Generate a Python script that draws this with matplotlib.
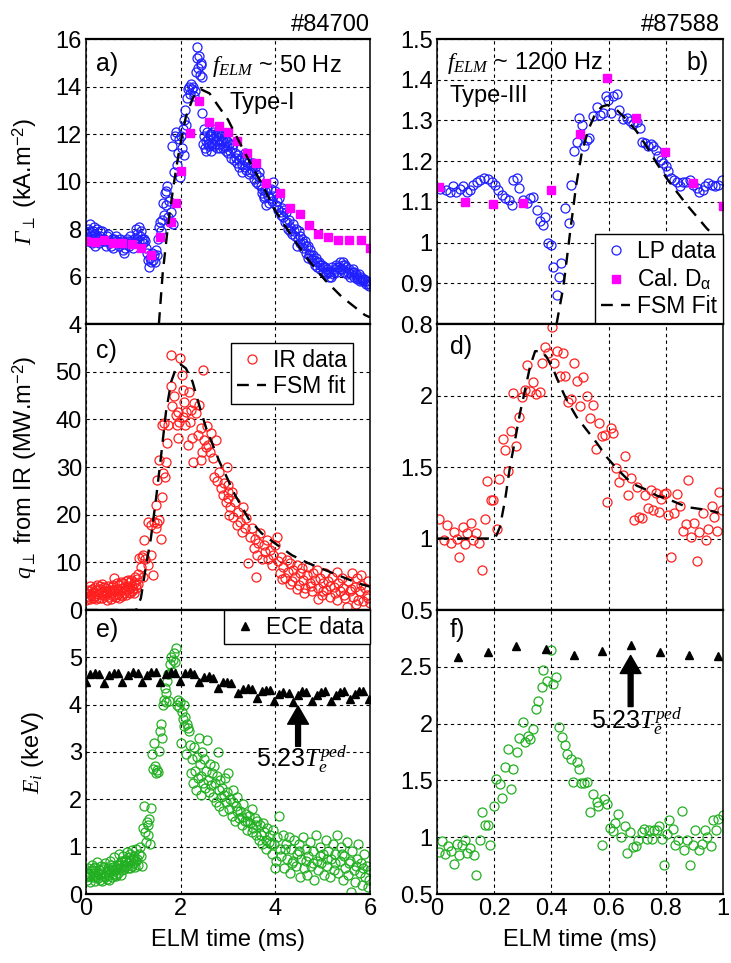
import numpy as np
import matplotlib.pyplot as plt
from matplotlib.ticker import FuncFormatter

plt.rcParams.update({
    'font.family': ['Liberation Sans', 'DejaVu Sans'],
    'font.size': 17,
    'mathtext.fontset': 'custom',
    'mathtext.rm': 'Liberation Sans',
    'mathtext.it': 'Liberation Serif:italic',
    'mathtext.cal': 'Liberation Serif:italic',
    'mathtext.bf': 'Liberation Sans:bold',
})

# ---------------- shot #84700 (type-I) ----------------
# particle flux, Langmuir probes (t in ms, kA/m2)
lp_a = [(0.00, 7.8), (0.02, 7.6), (0.04, 8.0), (0.06, 7.5), (0.08, 8.2), (0.10, 7.7), (0.12, 7.4), (0.14, 7.9),
        (0.16, 7.6), (0.18, 7.3), (0.20, 7.8), (0.22, 7.5), (0.24, 8.0), (0.26, 7.6), (0.28, 7.4), (0.30, 7.7),
        (0.33, 7.9), (0.36, 7.5), (0.39, 7.6), (0.42, 7.3), (0.45, 7.7), (0.48, 7.5), (0.51, 7.4), (0.54, 7.6),
        (0.57, 7.2), (0.60, 7.5), (0.63, 7.7), (0.66, 7.4), (0.69, 7.3), (0.72, 7.6), (0.75, 7.4), (0.78, 7.1),
        (0.81, 7.0), (0.84, 7.4), (0.87, 7.6), (0.90, 7.3), (0.93, 7.7), (0.96, 7.5), (0.99, 7.2), (1.02, 7.6),
        (1.05, 8.0), (1.08, 7.8), (1.11, 7.5), (1.14, 7.7), (1.17, 7.9), (1.20, 7.4), (1.23, 7.6), (1.26, 7.2),
        (1.29, 7.0), (1.32, 6.7), (1.34, 6.4), (1.36, 6.8), (1.38, 6.6), (1.40, 7.0), (1.42, 6.7), (1.44, 6.9),
        (1.46, 6.6), (1.48, 7.1), (1.50, 6.9), (1.52, 7.6), (1.54, 8.1), (1.56, 8.3), (1.58, 7.9), (1.60, 8.4),
        (1.62, 9.1), (1.64, 8.6), (1.66, 9.5), (1.68, 9.6), (1.70, 9.0), (1.72, 9.8), (1.74, 8.5), (1.76, 9.2),
        (1.78, 8.3), (1.80, 8.7), (1.82, 11.5), (1.84, 8.2), (1.86, 10.4), (1.88, 11.9), (1.90, 12.1), (1.92, 10.7),
        (1.94, 11.2), (1.96, 11.8), (1.98, 10.2), (2.00, 11.9), (2.02, 11.4), (2.04, 12.2), (2.06, 11.1), (2.08, 12.6),
        (2.10, 13.0), (2.12, 12.4), (2.14, 13.5), (2.16, 13.9), (2.18, 14.0), (2.20, 13.7), (2.22, 14.1), (2.24, 13.9),
        (2.26, 14.0), (2.28, 13.6), (2.30, 13.8), (2.32, 14.6), (2.34, 15.2), (2.35, 15.65), (2.37, 14.8), (2.38, 15.3),
        (2.40, 14.5), (2.42, 14.9), (2.44, 15.0), (2.45, 14.4), (2.46, 12.9), (2.48, 11.6), (2.50, 11.9), (2.52, 11.4),
        (2.54, 11.7), (2.56, 12.1), (2.58, 11.8), (2.60, 11.5), (2.62, 11.9), (2.64, 12.0), (2.66, 11.6), (2.68, 11.8),
        (2.70, 11.5), (2.72, 12.2), (2.74, 11.9), (2.76, 11.7), (2.78, 12.1), (2.80, 11.6), (2.82, 11.8), (2.84, 11.4),
        (2.86, 11.9), (2.88, 12.0), (2.90, 11.7), (2.92, 11.5), (2.94, 11.8), (2.96, 11.3), (2.98, 11.7), (3.00, 11.2),
        (3.03, 11.6), (3.06, 11.0), (3.09, 11.4), (3.12, 10.9), (3.15, 11.2), (3.18, 10.8), (3.21, 11.1), (3.24, 10.6),
        (3.27, 11.0), (3.30, 10.4), (3.33, 10.9), (3.36, 11.2), (3.39, 10.5), (3.42, 10.8), (3.45, 10.3), (3.48, 10.7),
        (3.51, 10.5), (3.54, 10.1), (3.57, 10.6), (3.60, 10.3), (3.63, 9.9), (3.66, 10.4), (3.69, 9.8), (3.72, 9.5),
        (3.75, 9.3), (3.78, 9.6), (3.81, 9.0), (3.84, 9.4), (3.87, 9.1), (3.90, 9.7), (3.93, 9.2), (3.96, 10.0),
        (3.99, 9.6), (4.02, 9.0), (4.05, 8.8), (4.08, 9.3), (4.11, 8.6), (4.14, 8.9), (4.17, 8.5), (4.20, 8.3),
        (4.23, 8.7), (4.26, 8.0), (4.29, 8.4), (4.32, 8.1), (4.35, 7.8), (4.38, 8.2), (4.41, 7.7), (4.44, 8.0),
        (4.47, 7.6), (4.50, 7.9), (4.53, 7.4), (4.56, 7.6), (4.59, 7.2), (4.62, 7.5), (4.65, 7.0), (4.68, 7.3),
        (4.71, 6.9), (4.74, 7.1), (4.77, 6.7), (4.80, 6.9), (4.83, 6.5), (4.86, 6.8), (4.89, 6.4), (4.92, 6.6),
        (4.95, 6.3), (4.98, 6.5), (5.01, 6.2), (5.04, 6.4), (5.07, 6.1), (5.10, 6.3), (5.13, 6.0), (5.16, 6.2),
        (5.19, 6.4), (5.22, 6.1), (5.25, 6.3), (5.28, 6.5), (5.31, 6.2), (5.34, 6.4), (5.37, 6.6), (5.40, 6.3),
        (5.43, 6.5), (5.46, 6.2), (5.49, 6.4), (5.52, 6.1), (5.55, 6.3), (5.58, 6.0), (5.61, 6.2), (5.64, 6.3),
        (5.67, 6.0), (5.70, 6.1), (5.73, 5.9), (5.76, 6.1), (5.79, 5.8), (5.82, 6.0), (5.85, 5.8), (5.88, 5.9),
        (5.91, 5.7), (5.94, 5.8), (5.97, 5.6), (6.00, 5.7),
        (0.01, 7.5), (0.05, 7.7), (0.09, 7.9), (0.13, 7.6), (0.17, 8.1), (0.23, 7.7), (0.29, 7.9), (0.35, 7.6),
        (0.41, 7.5), (0.47, 7.8), (0.53, 7.3), (0.59, 7.6), (0.65, 7.5), (0.71, 7.4), (0.77, 7.5), (0.83, 7.2),
        (0.89, 7.5), (0.95, 7.4), (1.01, 7.4), (1.07, 7.6), (1.13, 8.1), (1.19, 7.6), (1.25, 7.5),
        (2.49, 12.2), (2.53, 11.3), (2.57, 11.6), (2.61, 12.0), (2.65, 11.3), (2.69, 12.1), (2.73, 11.6),
        (2.77, 11.4), (2.81, 12.0), (2.85, 11.7), (2.89, 11.4), (2.93, 12.0), (2.97, 11.5),
        (3.05, 11.3), (3.11, 11.6), (3.17, 11.0), (3.23, 10.9), (3.29, 10.7), (3.35, 10.6), (3.41, 10.9),
        (3.47, 10.4), (3.53, 10.8), (3.59, 10.0), (3.65, 10.2), (3.71, 9.7), (3.77, 9.4), (3.83, 9.7),
        (3.89, 9.3), (3.95, 9.4),
        (4.04, 9.2), (4.13, 8.7), (4.19, 8.8), (4.25, 8.3), (4.31, 7.9), (4.40, 7.9), (4.46, 7.3), (4.52, 7.7),
        (4.58, 7.4), (4.64, 7.3), (4.70, 6.8), (4.76, 6.9), (4.82, 6.7), (4.88, 6.6), (4.94, 6.5), (5.00, 6.4),
        (5.06, 6.2), (5.12, 6.2), (5.18, 6.0), (5.24, 6.2), (5.30, 6.4), (5.36, 6.3), (5.42, 6.6), (5.48, 6.5),
        (5.54, 6.2), (5.60, 6.1), (5.66, 6.2), (5.72, 6.0), (5.78, 5.9), (5.84, 5.9), (5.90, 5.8), (5.96, 5.7)]

# flux from calibrated D-alpha
da_a = [(0.00, 7.51), (0.19, 7.45), (0.38, 7.55), (0.58, 7.42), (0.77, 7.42), (0.98, 7.35), (1.17, 7.2),
        (1.37, 6.9), (1.57, 7.65), (1.80, 8.3), (1.90, 9.1), (2.00, 10.45), (2.19, 12.05), (2.38, 13.4),
        (2.59, 12.5), (2.80, 12.35), (3.00, 12.1), (3.19, 11.7), (3.40, 11.2), (3.59, 10.8), (3.80, 9.95),
        (4.09, 9.5), (4.31, 8.9), (4.52, 8.65), (4.72, 8.15), (4.91, 7.8), (5.12, 7.65), (5.33, 7.55),
        (5.56, 7.55), (5.80, 7.55), (5.99, 7.2)]

fsm_a = [(1.54, 4.0), (1.62, 6.13), (1.73, 8.1), (1.845, 9.78), (1.97, 11.33), (2.11, 12.73), (2.27, 13.57),
         (2.43, 13.88), (2.61, 13.71), (2.78, 13.22), (3.00, 12.6), (3.36, 11.19), (3.71, 9.92), (3.99, 8.8),
         (4.35, 7.68), (4.70, 6.69), (5.05, 5.85), (5.40, 5.15), (5.89, 4.38), (6.00, 4.28)]

# divertor heat flux from IR (MW/m2)
ir_c = [(0.00, 3.5), (0.02, 4.2), (0.04, 2.8), (0.06, 3.9), (0.08, 5.0), (0.10, 3.2), (0.12, 4.5), (0.14, 2.5),
        (0.16, 3.8), (0.18, 4.8), (0.20, 3.0), (0.22, 4.1), (0.24, 5.2), (0.26, 3.4), (0.28, 2.6), (0.30, 4.4),
        (0.32, 3.7), (0.34, 5.5), (0.36, 3.1), (0.38, 4.0), (0.40, 2.9), (0.42, 4.6), (0.44, 3.5), (0.46, 5.1),
        (0.48, 2.7), (0.50, 4.3), (0.52, 3.6), (0.54, 4.9), (0.56, 3.0), (0.58, 4.1), (0.60, 6.8), (0.62, 3.9),
        (0.64, 2.8), (0.66, 4.5), (0.68, 3.4), (0.70, 5.3), (0.72, 4.0), (0.74, 3.2), (0.76, 4.7), (0.78, 5.6),
        (0.80, 3.6), (0.82, 4.9), (0.84, 6.0), (0.86, 4.2), (0.88, 5.1), (0.90, 3.8), (0.92, 5.8), (0.94, 4.6),
        (0.96, 6.3), (0.98, 5.0), (1.00, 4.4), (1.02, 5.7), (1.04, 6.9), (1.06, 5.2), (1.08, 6.4), (1.10, 7.6),
        (0.01, 2.2), (0.05, 3.0), (0.09, 2.4), (0.13, 3.6), (0.17, 2.9), (0.21, 2.3), (0.25, 3.3), (0.29, 5.1),
        (0.33, 2.6), (0.37, 4.9), (0.41, 3.3), (0.45, 2.2), (0.49, 4.0), (0.53, 2.4), (0.57, 5.3), (0.61, 3.2),
        (0.65, 5.6), (0.69, 2.5), (0.73, 5.9), (0.77, 3.0), (0.81, 4.3), (0.85, 3.1), (0.89, 6.2), (0.93, 3.5),
        (0.97, 4.0), (1.01, 3.6), (1.05, 4.7), (1.09, 5.5),
        (1.12, 11.0), (1.16, 9.0), (1.18, 11.2), (1.20, 7.0), (1.21, 11.6), (1.23, 14.7), (1.25, 10.8), (1.30, 9.4),
        (1.37, 11.5), (1.41, 7.4), (1.30, 18.5), (1.37, 17.8), (1.44, 18.5), (1.49, 18.2), (1.48, 17.1),
        (1.55, 18.9), (1.58, 15.0), (1.48, 22.0), (1.49, 27.3), (1.61, 23.8), (1.63, 28.7), (1.67, 28.0),
        (1.68, 31.1), (1.54, 31.5), (1.61, 38.8), (1.65, 39.2), (1.73, 38.8), (1.71, 35.0), (1.80, 46.9),
        (1.85, 44.8), (1.82, 42.7), (1.90, 40.9), (1.92, 38.8), (1.94, 36.0), (1.97, 39.5), (1.99, 52.8),
        (1.80, 53.4), (2.02, 49.3), (2.04, 46.2), (2.08, 43.7), (2.11, 41.6), (2.10, 38.8), (2.15, 34.6),
        (2.18, 45.8), (2.22, 42.0), (2.24, 36.0), (2.29, 43.4), (2.32, 41.3), (2.36, 36.7), (2.39, 43.0),
        (2.43, 38.1), (2.46, 33.2), (2.48, 50.4), (2.50, 35.7), (2.54, 34.1), (2.57, 34.6), (2.61, 33.2),
        (2.64, 37.1), (2.68, 31.8), (2.71, 28.0), (2.75, 35.7), (2.76, 27.0), (2.80, 29.0), (2.85, 25.5),
        (2.89, 24.1), (2.92, 26.6), (2.96, 22.7), (2.99, 24.8), (3.03, 19.9), (3.04, 21.7), (2.25, 31.1),
        (2.43, 31.5), (1.95, 41.5), (2.05, 40.5), (2.20, 39.5), (2.55, 38.5),
        (2.97, 30.1), (3.01, 26.2), (2.99, 23.4), (3.08, 24.8), (3.11, 19.6), (3.15, 22.7), (3.18, 17.8),
        (3.22, 20.6), (3.25, 18.5), (3.29, 16.4), (3.32, 21.7), (3.36, 17.1), (3.39, 19.2), (3.43, 9.8),
        (3.46, 15.4), (3.50, 17.1), (3.54, 13.0), (3.57, 15.0), (3.61, 11.6), (3.64, 14.0), (3.68, 16.1),
        (3.71, 10.8), (3.75, 13.7), (3.78, 12.2), (3.82, 14.7), (3.85, 10.8), (3.89, 12.6), (3.92, 9.5),
        (3.96, 11.5), (3.99, 13.7), (4.03, 15.4), (4.06, 10.2), (4.10, 7.7), (4.13, 11.2), (4.17, 9.1),
        (4.20, 6.7), (4.24, 10.5), (4.27, 8.0), (4.31, 9.8), (4.35, 6.0), (4.38, 8.4), (4.42, 7.0), (4.45, 9.5),
        (4.49, 5.3), (4.52, 7.7), (4.56, 8.8), (4.59, 6.3), (4.63, 4.6), (4.66, 7.4), (4.70, 9.1), (4.73, 5.6),
        (4.77, 3.9), (4.80, 7.7), (4.84, 6.3), (4.87, 8.4), (4.91, 4.6), (4.94, 6.7), (4.98, 3.2), (5.01, 5.6),
        (5.05, 7.7), (5.08, 4.2), (5.12, 6.0), (5.16, 2.8), (5.19, 7.0), (5.23, 4.9), (5.26, 3.5), (5.30, 8.0),
        (5.33, 5.6), (5.37, 3.9), (5.40, 6.7), (5.44, 4.6), (5.47, 2.5), (5.51, 0.7), (5.54, 6.0), (5.58, 3.9),
        (5.61, 7.7), (5.65, 2.8), (5.68, 4.9), (5.72, 6.7), (5.75, 2.1), (5.79, 3.9), (5.82, 7.4), (5.86, 1.8),
        (5.89, 4.6), (5.93, 3.2), (5.96, 6.0), (5.99, 1.4),
        (4.45, 4.5), (4.60, 3.5), (4.75, 5.0), (4.90, 2.4), (5.00, 4.0), (5.15, 5.0), (5.30, 2.2), (5.45, 3.2),
        (5.60, 4.4), (5.70, 1.2), (5.80, 5.2), (5.95, 2.6), (4.30, 5.5), (4.15, 6.5), (3.60, 7.0)]

fsm_c = [(0.00, 0.0), (0.50, 0.0), (1.06, 0.0), (1.16, 2.5), (1.27, 9.4), (1.37, 15.0), (1.48, 23.4),
         (1.58, 31.8), (1.69, 41.6), (1.80, 47.9), (1.90, 50.7), (2.00, 51.5), (2.11, 50.7), (2.25, 47.9),
         (2.39, 43.0), (2.54, 38.1), (2.68, 34.6), (2.82, 31.1), (2.94, 28.6), (3.15, 24.1), (3.43, 19.2),
         (3.71, 16.1), (3.99, 14.0), (4.35, 11.5), (4.70, 9.8), (5.05, 8.4), (5.40, 7.0), (5.75, 5.6),
         (6.00, 4.9)]

# ion impact energy (keV)
ei_e = [(0.00, 0.45), (0.02, 0.30), (0.04, 0.55), (0.06, 0.38), (0.08, 0.25), (0.10, 0.50), (0.12, 0.62),
        (0.14, 0.35), (0.16, 0.45), (0.18, 0.28), (0.20, 0.58), (0.22, 0.40), (0.24, 0.68), (0.26, 0.33),
        (0.28, 0.50), (0.30, 0.42), (0.32, 0.60), (0.34, 0.28), (0.36, 0.52), (0.38, 0.38), (0.40, 0.65),
        (0.42, 0.45), (0.44, 0.32), (0.46, 0.55), (0.48, 0.40), (0.50, 0.70), (0.52, 0.48), (0.54, 0.35),
        (0.56, 0.58), (0.58, 0.42), (0.60, 0.78), (0.62, 0.50), (0.64, 0.38), (0.66, 0.62), (0.68, 0.45),
        (0.70, 0.85), (0.72, 0.55), (0.74, 0.40), (0.76, 0.68), (0.78, 0.80), (0.80, 0.52), (0.82, 0.72),
        (0.84, 0.60), (0.86, 0.88), (0.88, 0.65), (0.90, 0.78), (0.92, 0.55), (0.94, 0.85), (0.96, 0.70),
        (0.98, 0.92), (1.00, 0.65), (1.02, 0.80), (1.04, 0.58), (1.06, 0.95), (1.08, 0.75), (1.10, 0.62),
        (1.12, 0.85), (1.14, 1.00), (1.16, 0.80), (1.18, 0.60),
        (0.01, 0.35), (0.05, 0.42), (0.09, 0.38), (0.13, 0.48), (0.17, 0.55), (0.21, 0.35), (0.25, 0.45),
        (0.29, 0.30), (0.33, 0.45), (0.37, 0.58), (0.41, 0.35), (0.45, 0.48), (0.49, 0.30), (0.53, 0.62),
        (0.57, 0.50), (0.61, 0.40), (0.65, 0.55), (0.69, 0.62), (0.73, 0.70), (0.77, 0.50), (0.81, 0.62),
        (0.85, 0.70), (0.89, 0.55), (0.93, 0.72), (0.97, 0.60), (1.01, 0.75), (1.05, 0.70),
        (1.20, 1.40), (1.22, 1.85), (1.24, 1.30), (1.26, 1.10), (1.28, 1.52), (1.30, 1.25), (1.32, 1.45),
        (1.34, 1.58), (1.36, 1.05), (1.38, 1.82), (1.40, 2.95), (1.42, 2.65), (1.44, 3.20), (1.46, 2.70),
        (1.48, 2.55), (1.50, 2.62), (1.52, 2.58), (1.54, 3.02), (1.56, 3.45), (1.58, 3.60), (1.60, 3.30),
        (1.62, 4.00), (1.64, 4.10), (1.66, 4.35), (1.68, 4.25), (1.70, 4.05), (1.72, 4.50), (1.74, 4.65),
        (1.76, 4.07), (1.78, 4.85), (1.80, 5.00), (1.82, 4.70), (1.84, 4.95), (1.86, 5.10), (1.88, 4.90),
        (1.90, 5.20), (1.92, 4.00), (1.94, 4.10), (1.96, 3.95), (1.98, 4.05), (2.00, 3.20), (2.02, 3.85),
        (2.04, 3.70), (2.06, 4.00), (2.08, 3.55), (2.10, 3.75), (2.12, 2.95), (2.14, 3.60), (2.16, 3.50),
        (2.18, 3.45),
        (2.20, 3.15), (2.22, 2.55), (2.24, 2.85), (2.26, 2.35), (2.28, 3.10), (2.30, 2.60), (2.32, 2.20),
        (2.34, 2.90), (2.36, 2.45), (2.38, 3.30), (2.40, 2.75), (2.42, 2.10), (2.44, 2.50), (2.46, 3.00),
        (2.48, 2.35), (2.50, 2.85), (2.52, 2.25), (2.54, 2.60), (2.56, 3.25), (2.58, 2.40), (2.60, 2.15),
        (2.62, 2.75), (2.64, 2.30), (2.66, 2.55), (2.68, 2.05), (2.70, 2.70), (2.72, 2.35), (2.74, 1.95),
        (2.76, 2.50), (2.78, 3.00), (2.80, 2.20), (2.82, 1.85), (2.84, 2.40), (2.86, 2.05), (2.88, 2.25),
        (2.90, 1.75), (2.92, 2.10), (2.94, 2.45), (2.96, 1.95), (2.98, 2.15), (3.00, 2.55),
        (3.02, 1.80), (3.05, 2.00), (3.08, 1.65), (3.11, 1.95), (3.14, 1.55), (3.17, 1.85), (3.20, 2.05),
        (3.23, 1.60), (3.26, 1.75), (3.29, 1.45), (3.32, 1.90), (3.35, 1.55), (3.38, 1.70), (3.41, 1.35),
        (3.44, 1.65), (3.47, 1.50), (3.50, 1.80), (3.53, 1.40), (3.56, 1.60), (3.59, 1.25), (3.62, 1.55),
        (3.65, 1.15), (3.68, 1.45), (3.71, 1.05), (3.74, 1.50), (3.77, 1.30), (3.80, 0.95), (3.83, 1.40),
        (3.86, 1.10), (3.89, 1.25), (3.92, 0.85), (3.95, 1.35), (3.98, 1.05), (4.01, 0.70), (4.04, 1.20),
        (4.07, 1.65), (4.10, 0.95),
        (3.10, 2.20), (3.20, 1.75), (3.30, 1.62), (3.40, 1.55), (3.50, 1.30), (3.60, 1.45), (3.70, 1.25),
        (3.80, 1.15), (3.90, 1.05), (4.00, 0.55),
        (4.13, 0.80), (4.16, 1.25), (4.19, 0.55), (4.22, 1.05), (4.25, 0.75), (4.28, 1.20), (4.31, 0.45),
        (4.34, 0.95), (4.37, 0.70), (4.40, 1.15), (4.43, 0.60), (4.46, 0.85), (4.49, 1.05), (4.52, 0.35),
        (4.55, 0.75), (4.58, 1.20), (4.61, 0.55), (4.64, 0.95), (4.67, 0.40), (4.70, 0.80), (4.73, 1.10),
        (4.76, 0.60), (4.79, 0.90), (4.82, 0.30), (4.85, 1.25), (4.88, 0.70), (4.91, 0.50), (4.94, 1.00),
        (4.97, 0.65), (5.00, 0.85), (5.03, 0.40), (5.06, 1.15), (5.09, 0.60), (5.12, 0.90), (5.15, 0.35),
        (5.18, 0.75), (5.21, 1.05), (5.24, 0.50), (5.27, 0.85), (5.30, 1.25), (5.33, 0.45), (5.36, 0.70),
        (5.39, 1.00), (5.42, 0.30), (5.45, 0.80), (5.48, 0.55), (5.51, 1.10), (5.54, 0.40), (5.57, 0.70),
        (5.60, 0.05), (5.63, 0.90), (5.66, 0.50), (5.69, 0.25), (5.72, 0.75), (5.75, 1.05), (5.78, 0.45),
        (5.81, 0.65), (5.84, 0.20), (5.87, 0.85), (5.90, 0.35), (5.93, 0.60), (5.96, 0.15), (5.99, 0.50),
        (4.20, 0.95), (4.35, 0.65), (4.50, 0.90), (4.65, 0.70), (4.80, 0.65), (4.95, 0.80), (5.10, 0.75),
        (5.25, 0.65), (5.40, 0.85), (5.55, 0.65), (5.70, 0.60), (5.85, 0.55), (5.98, 0.30)]

# 5.23 x pedestal Te from ECE (keV)
ece_e = [(0.01, 4.48), (0.085, 4.64), (0.18, 4.66), (0.27, 4.64), (0.39, 4.45), (0.49, 4.62), (0.60, 4.66),
         (0.68, 4.66), (0.77, 4.47), (0.88, 4.63), (0.99, 4.68), (1.09, 4.66), (1.18, 4.47), (1.28, 4.63),
         (1.37, 4.68), (1.48, 4.70), (1.56, 4.48), (1.69, 4.64), (1.80, 4.69), (1.89, 4.66), (1.99, 4.49),
         (2.10, 4.66), (2.20, 4.69), (2.29, 4.65), (2.38, 4.47), (2.50, 4.58), (2.59, 4.61), (2.68, 4.56),
         (2.78, 4.35), (2.89, 4.47), (2.97, 4.48), (3.06, 4.45), (3.22, 4.25), (3.32, 4.34), (3.42, 4.36),
         (3.51, 4.34), (3.61, 4.14), (3.71, 4.28), (3.80, 4.31), (3.89, 4.30), (3.98, 4.07), (4.08, 4.22),
         (4.17, 4.26), (4.28, 4.25), (4.38, 4.06), (4.47, 4.21), (4.56, 4.28), (4.65, 4.26), (4.78, 4.07),
         (4.87, 4.21), (4.97, 4.27), (5.05, 4.28), (5.18, 4.08), (5.28, 4.20), (5.37, 4.27), (5.46, 4.28),
         (5.58, 4.11), (5.68, 4.22), (5.77, 4.29), (5.86, 4.28), (5.98, 4.11)]

# ---------------- shot #87588 (type-III) ----------------
lp_b = [(0.01, 1.132), (0.031, 1.13), (0.045, 1.125), (0.057, 1.138), (0.068, 1.125), (0.08, 1.131),
        (0.092, 1.138), (0.104, 1.124), (0.115, 1.13), (0.127, 1.142), (0.139, 1.148), (0.15, 1.154),
        (0.164, 1.158), (0.18, 1.156), (0.191, 1.15), (0.203, 1.142), (0.214, 1.13), (0.226, 1.117),
        (0.238, 1.109), (0.25, 1.105), (0.261, 1.093), (0.267, 1.154), (0.279, 1.158), (0.288, 1.134),
        (0.302, 1.105), (0.314, 1.097), (0.325, 1.109), (0.337, 1.113), (0.348, 1.08), (0.36, 1.052),
        (0.369, 1.043), (0.379, 1.064), (0.389, 0.998), (0.397, 0.994), (0.404, 0.941), (0.418, 0.871),
        (0.425, 0.916), (0.435, 0.949), (0.449, 1.084), (0.46, 1.049), (0.467, 1.142), (0.479, 1.226),
        (0.488, 1.248), (0.498, 1.306), (0.506, 1.289), (0.514, 1.236), (0.523, 1.252), (0.533, 1.257),
        (0.547, 1.31), (0.558, 1.334), (0.57, 1.314), (0.582, 1.318), (0.591, 1.359), (0.599, 1.351),
        (0.607, 1.318), (0.617, 1.359), (0.628, 1.366), (0.638, 1.326), (0.652, 1.303), (0.663, 1.306),
        (0.675, 1.298), (0.686, 1.292), (0.698, 1.295), (0.71, 1.281), (0.717, 1.246), (0.727, 1.244),
        (0.738, 1.236), (0.747, 1.243), (0.756, 1.236), (0.766, 1.228), (0.774, 1.213), (0.783, 1.203),
        (0.791, 1.195), (0.801, 1.189), (0.809, 1.176), (0.818, 1.158), (0.829, 1.154), (0.838, 1.148),
        (0.85, 1.139), (0.859, 1.148), (0.871, 1.15), (0.885, 1.154), (0.896, 1.142), (0.908, 1.134),
        (0.917, 1.125), (0.929, 1.13), (0.937, 1.138), (0.949, 1.146), (0.96, 1.142), (0.972, 1.139),
        (0.984, 1.142), (0.998, 1.154)]

da_b = [(0.008, 1.136), (0.097, 1.10), (0.197, 1.095), (0.30, 1.098), (0.40, 1.13), (0.50, 1.266),
        (0.596, 1.404), (0.696, 1.305), (0.797, 1.223), (0.896, 1.146), (0.999, 1.089)]

fsm_b = [(0.418, 0.80), (0.442, 0.892), (0.465, 1.023), (0.486, 1.138), (0.506, 1.22), (0.529, 1.277),
         (0.552, 1.314), (0.576, 1.334), (0.596, 1.338), (0.628, 1.326), (0.663, 1.302), (0.698, 1.273),
         (0.733, 1.236), (0.768, 1.195), (0.803, 1.158), (0.838, 1.125), (0.873, 1.093), (0.908, 1.064),
         (0.943, 1.035), (0.96, 1.023), (1.0, 0.99)]

ir_d = [(0.008, 1.134), (0.024, 0.99), (0.036, 1.097), (0.048, 0.971), (0.059, 1.045), (0.069, 0.994),
        (0.076, 0.868), (0.09, 1.078), (0.097, 0.962), (0.106, 1.041), (0.118, 1.111), (0.127, 0.99),
        (0.136, 1.036), (0.148, 0.971), (0.157, 0.78), (0.169, 1.134), (0.176, 1.40), (0.188, 1.27),
        (0.197, 1.27), (0.209, 1.064), (0.218, 1.414), (0.23, 1.693), (0.238, 1.62), (0.248, 1.472),
        (0.258, 1.754), (0.267, 2.015), (0.276, 1.647), (0.286, 1.852), (0.297, 1.987), (0.307, 2.038),
        (0.314, 2.213), (0.325, 2.031), (0.337, 2.094), (0.346, 2.01), (0.36, 2.024), (0.367, 2.225),
        (0.379, 2.342), (0.389, 2.295), (0.401, 2.477), (0.409, 2.225), (0.418, 2.314), (0.43, 2.136),
        (0.439, 2.295), (0.449, 2.136), (0.459, 1.957), (0.469, 1.978), (0.48, 2.225), (0.488, 2.104),
        (0.50, 1.927), (0.509, 2.127), (0.526, 1.997), (0.535, 1.84), (0.547, 1.934), (0.556, 1.626),
        (0.568, 1.805), (0.576, 1.717), (0.587, 1.724), (0.596, 1.258), (0.607, 1.77), (0.617, 1.735),
        (0.626, 1.49), (0.638, 1.397), (0.649, 1.444), (0.659, 1.577), (0.669, 1.304), (0.677, 1.421),
        (0.689, 1.129), (0.698, 1.362), (0.707, 1.148), (0.716, 1.141), (0.728, 1.304), (0.737, 1.211),
        (0.747, 1.339), (0.756, 1.199), (0.766, 1.321), (0.777, 1.188), (0.784, 1.274), (0.794, 1.311),
        (0.801, 1.316), (0.809, 1.164), (0.818, 0.868), (0.829, 1.181), (0.84, 1.311), (0.85, 1.227),
        (0.859, 1.055), (0.871, 1.101), (0.879, 1.409), (0.887, 1.013), (0.899, 1.111), (0.908, 0.845),
        (0.917, 1.048), (0.929, 1.181), (0.94, 0.99), (0.949, 1.064), (0.96, 1.227), (0.969, 1.153),
        (0.978, 1.055), (0.987, 1.327), (0.998, 1.199)]

fsm_d = [(0.0, 1.0), (0.203, 1.0), (0.22, 1.08), (0.238, 1.27), (0.255, 1.50), (0.273, 1.69), (0.29, 1.875),
         (0.308, 2.04), (0.325, 2.20), (0.343, 2.31), (0.366, 2.31), (0.383, 2.27), (0.407, 2.18),
         (0.43, 2.07), (0.453, 1.97), (0.488, 1.85), (0.523, 1.76), (0.558, 1.67), (0.593, 1.57),
         (0.628, 1.49), (0.663, 1.42), (0.698, 1.37), (0.733, 1.34), (0.768, 1.30), (0.803, 1.28),
         (0.838, 1.25), (0.873, 1.22), (0.908, 1.21), (0.943, 1.20), (0.984, 1.18)]

ei_f = [(0.007, 0.871), (0.016, 0.967), (0.028, 0.85), (0.037, 0.92), (0.048, 0.879), (0.059, 0.763),
        (0.069, 0.944), (0.077, 0.842), (0.086, 0.929), (0.098, 0.979), (0.106, 0.862), (0.115, 0.909),
        (0.129, 0.842), (0.138, 0.669), (0.15, 0.979), (0.159, 1.218), (0.168, 1.104), (0.179, 1.104),
        (0.185, 0.929), (0.199, 1.279), (0.206, 1.513), (0.22, 1.469), (0.226, 1.347), (0.238, 1.615),
        (0.248, 1.776), (0.258, 1.425), (0.267, 1.60), (0.279, 1.746), (0.288, 1.872), (0.30, 2.018),
        (0.308, 1.834), (0.319, 1.892), (0.325, 1.863), (0.337, 1.951), (0.346, 2.126), (0.354, 2.199),
        (0.368, 2.321), (0.372, 2.476), (0.386, 2.374), (0.397, 2.651), (0.404, 2.345), (0.416, 2.409),
        (0.428, 1.971), (0.436, 1.878), (0.448, 1.813), (0.456, 1.732), (0.467, 1.688), (0.474, 1.484),
        (0.488, 1.659), (0.495, 1.60), (0.504, 1.475), (0.514, 1.475), (0.526, 1.484), (0.535, 1.221),
        (0.547, 1.376), (0.558, 1.309), (0.564, 1.279), (0.576, 0.929), (0.585, 1.338), (0.596, 1.288),
        (0.605, 1.081), (0.614, 1.052), (0.622, 1.125), (0.634, 1.206), (0.642, 1.002), (0.657, 1.095),
        (0.663, 0.862), (0.675, 1.046), (0.684, 0.914), (0.696, 0.92), (0.704, 0.979), (0.716, 1.046),
        (0.723, 1.075), (0.733, 0.987), (0.742, 1.06), (0.751, 0.987), (0.759, 1.066), (0.768, 1.06),
        (0.776, 1.095), (0.786, 0.987), (0.795, 0.754), (0.805, 1.031), (0.812, 1.148), (0.824, 1.075),
        (0.832, 0.935), (0.844, 0.973), (0.855, 1.23), (0.864, 0.891), (0.875, 0.979), (0.885, 0.754),
        (0.894, 0.929), (0.902, 1.06), (0.917, 0.891), (0.925, 0.944), (0.937, 1.066), (0.945, 1.002),
        (0.957, 0.92), (0.966, 1.148), (0.976, 1.06), (0.984, 1.163), (0.999, 1.192)]

ece_f = [(0.075, 2.587), (0.177, 2.631), (0.275, 2.68), (0.38, 2.657), (0.48, 2.607), (0.578, 2.642),
         (0.678, 2.689), (0.78, 2.631), (0.881, 2.607), (0.981, 2.599)]


def xy(pts):
    a = np.array(pts)
    return a[:, 0], a[:, 1]


def g_fmt(v, pos):
    return f'{v:g}'


circ = dict(ls='none', marker='o', mfc='none', ms=6.5, mew=0.9)
dash = dict(color='k', lw=1.7, dashes=(5, 3.5))
FS = 17

fig = plt.figure(figsize=(7.31, 9.63), dpi=100)
W, H = 731.0, 963.0
cols = [(86, 370), (437, 723)]
rows = [(39, 324), (324, 610), (610, 894)]
axs = [[fig.add_axes([c[0] / W, 1 - r[1] / H, (c[1] - c[0]) / W, (r[1] - r[0]) / H]) for c in cols]
       for r in rows]
(ax_a, ax_b), (ax_c, ax_d), (ax_e, ax_f) = axs


def style(ax, xlim, xticks, ylim, yticks, bottom):
    ax.set_xlim(*xlim)
    ax.set_ylim(*ylim)
    ax.set_xticks(xticks)
    ax.set_yticks(yticks)
    ax.xaxis.set_major_formatter(FuncFormatter(g_fmt))
    ax.yaxis.set_major_formatter(FuncFormatter(g_fmt))
    ax.grid(True, color='k', lw=0.8, ls=(0, (3, 3)))
    ax.set_axisbelow(True)
    ax.tick_params(direction='in', length=0, labelsize=FS, pad=3, labelbottom=bottom)
    for s in ax.spines.values():
        s.set_linewidth(1.1)
    ax.spines['top'].set_linewidth(1.6)
    ax.spines['bottom'].set_linewidth(1.6)


style(ax_a, (0, 6), [0, 2, 4, 6], (4, 16), np.arange(4, 17, 2), False)
style(ax_c, (0, 6), [0, 2, 4, 6], (0, 60), np.arange(0, 51, 10), False)
style(ax_e, (0, 6), [0, 2, 4, 6], (0, 6), np.arange(0, 6), True)
rt = [0, 0.2, 0.4, 0.6, 0.8, 1.0]
style(ax_b, (0, 1), rt, (0.8, 1.5), [0.8, 0.9, 1.0, 1.1, 1.2, 1.3, 1.4, 1.5], False)
style(ax_d, (0, 1), rt, (0.5, 2.5), [0.5, 1.0, 1.5, 2.0], False)
style(ax_f, (0, 1), rt, (0.5, 3.0), [0.5, 1.0, 1.5, 2.0, 2.5], True)

# a) particle flux, type-I
ax_a.plot(*xy(lp_a), mec='#1f1fff', **circ)
ax_a.plot(*xy(da_a), ls='none', marker='s', color='#ff00ff', ms=5.5)
ax_a.plot(*xy(fsm_a), **dash)
ax_a.set_ylabel(r'$\mathcal{Γ}_{\perp}$ (kA.m$^{-2}$)', fontsize=FS)
ax_a.text(0.035, 0.955, 'a)', transform=ax_a.transAxes, fontsize=18, va='top')
ax_a.text(0.445, 0.905, r'$f_{ELM}$ ~ 50 Hz', transform=ax_a.transAxes, fontsize=FS, va='center')
ax_a.text(0.505, 0.775, 'Type-I', transform=ax_a.transAxes, fontsize=FS, va='center')
ax_a.text(1.0, 1.01, '#84700', transform=ax_a.transAxes, fontsize=FS, ha='right', va='bottom')

# b) particle flux, type-III
ax_b.plot(*xy(lp_b), mec='#1f1fff', label='LP data', **circ)
ax_b.plot(*xy(da_b), ls='none', marker='s', color='#ff00ff', ms=5.5, label=r'Cal. D$_{\mathrm{α}}$')
ax_b.plot(*xy(fsm_b), label='FSM Fit', **dash)
ax_b.text(0.035, 0.915, r'$f_{ELM}$ ~ 1200 Hz', transform=ax_b.transAxes, fontsize=FS, va='center')
ax_b.text(0.045, 0.80, 'Type-III', transform=ax_b.transAxes, fontsize=FS, va='center')
ax_b.text(0.95, 0.915, 'b)', transform=ax_b.transAxes, fontsize=18, ha='right', va='center')
ax_b.text(0.99, 1.01, '#87588', transform=ax_b.transAxes, fontsize=FS, ha='right', va='bottom')

leg_kw = dict(fontsize=16.5, fancybox=False, edgecolor='k', framealpha=1, borderpad=0.25,
              handlelength=1.3, handletextpad=0.3, labelspacing=0.15, borderaxespad=0)
leg = ax_b.legend(loc='lower right', bbox_to_anchor=(1.0, 0.0), **leg_kw)
leg.get_frame().set_linewidth(1.0)

# c) heat flux, type-I
ax_c.plot(*xy(ir_c), mec='#ff1f1f', label='IR data', **circ)
ax_c.plot(*xy(fsm_c), label='FSM fit', **dash)
ax_c.set_ylabel(r'$q_{\perp}$ from IR (MW.m$^{-2}$)', fontsize=FS)
ax_c.text(0.035, 0.905, 'c)', transform=ax_c.transAxes, fontsize=18, va='center')
leg = ax_c.legend(loc='upper right', bbox_to_anchor=(0.94, 0.934), **leg_kw)
leg.get_frame().set_linewidth(1.0)

# d) heat flux, type-III
ax_d.plot(*xy(ir_d), mec='#ff1f1f', **circ)
ax_d.plot(*xy(fsm_d), **dash)
ax_d.text(0.045, 0.92, 'd)', transform=ax_d.transAxes, fontsize=18, va='center')

# e) ion impact energy, type-I
ax_e.plot(*xy(ei_e), mec='#22b022', **circ)
ax_e.plot(*xy(ece_e), ls='none', marker='^', color='k', ms=6, label='ECE data')
ax_e.set_ylabel(r'$E_i$ (keV)', fontsize=FS)
ax_e.set_xlabel('ELM time (ms)', fontsize=FS, labelpad=6)
ax_e.text(0.035, 0.93, 'e)', transform=ax_e.transAxes, fontsize=18, va='center')
leg = ax_e.legend(loc='upper right', bbox_to_anchor=(1.0, 1.0), **leg_kw)
leg.get_frame().set_linewidth(1.0)
ax_e.annotate('', xy=(4.48, 3.97), xytext=(4.48, 3.12),
              arrowprops=dict(facecolor='k', edgecolor='k', width=3.5, headwidth=15, headlength=13, shrink=0))
ax_e.text(4.56, 2.85, r'$5.23T_e^{ped}$', fontsize=18, ha='center', va='center')

# f) ion impact energy, type-III
ax_f.plot(*xy(ei_f), mec='#22b022', **circ)
ax_f.plot(*xy(ece_f), ls='none', marker='^', color='k', ms=6)
ax_f.set_xlabel('ELM time (ms)', fontsize=FS, labelpad=6)
ax_f.text(0.045, 0.93, 'f)', transform=ax_f.transAxes, fontsize=18, va='center')
ax_f.annotate('', xy=(0.677, 2.6), xytext=(0.677, 2.15),
              arrowprops=dict(facecolor='k', edgecolor='k', width=3.5, headwidth=15, headlength=13, shrink=0))
ax_f.text(0.70, 2.02, r'$5.23T_e^{ped}$', fontsize=18, ha='center', va='center')

for ax in (ax_a, ax_c):
    ax.yaxis.set_label_coords(-0.165, 0.5)
ax_e.yaxis.set_label_coords(-0.14, 0.5)

fig.savefig('out.png', dpi=100)
